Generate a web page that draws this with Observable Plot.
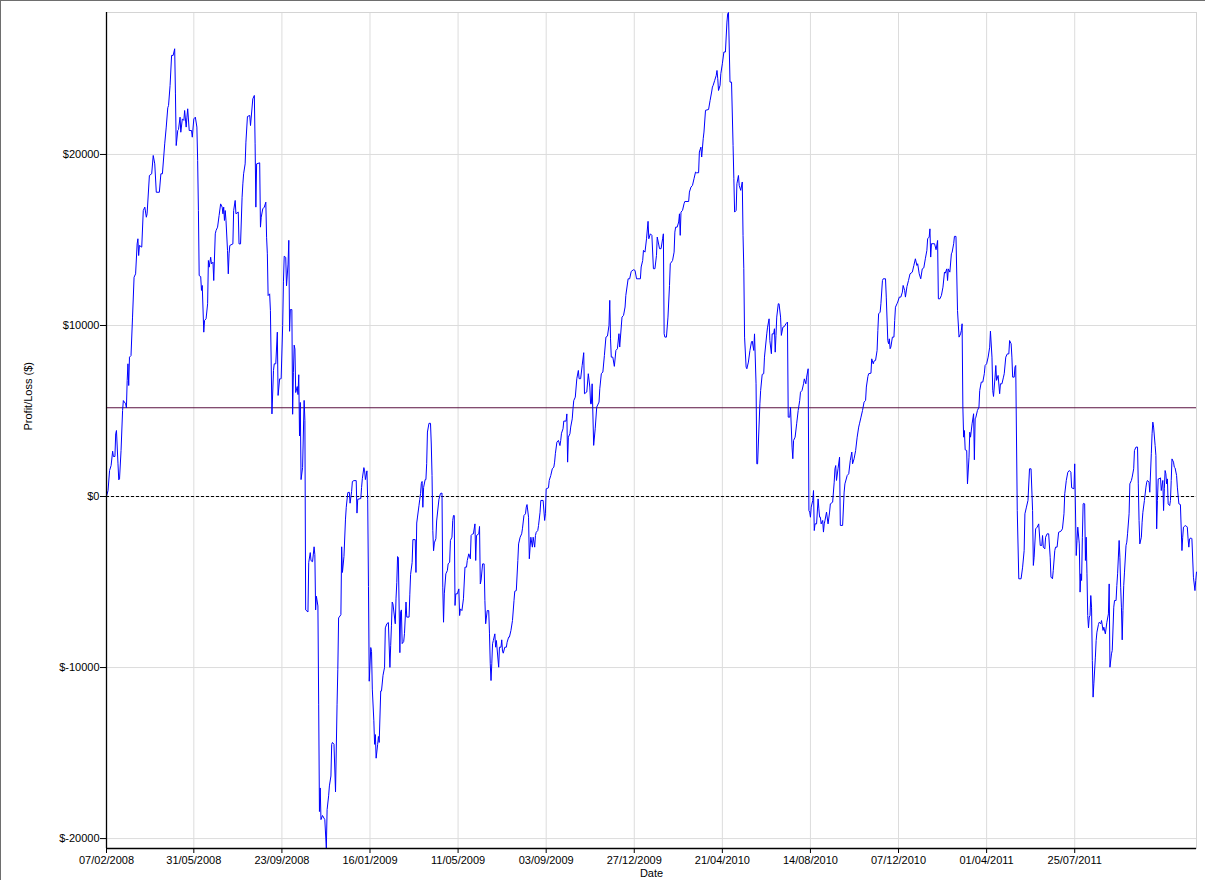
<!DOCTYPE html>
<html>
<head>
<meta charset="utf-8">
<script src="https://cdn.jsdelivr.net/npm/d3@7"></script>
<script src="https://cdn.jsdelivr.net/npm/@observablehq/plot@0.6"></script>
<style>
  html, body { margin: 0; padding: 0; background: #fff; }
  #wrap { position: relative; width: 1205px; height: 880px; overflow: hidden; }
  #border { position: absolute; left: 0; top: 0; width: 1205px; height: 880px; box-sizing: border-box;
            border-top: 1px solid #6e6e6e; border-left: 1px solid #6e6e6e; pointer-events: none; }
</style>
</head>
<body>
<div id="wrap"><div id="border"></div></div>
<script>
// ---- Data ----
const startDate = "07/02/2008";           // first trading date shown
// [calendar days since start, profit/loss in $]
const pnlPoints = [
[0,0],[2,350],[4,1520],[6,1810],[8,2650],[9,2340],[11,2340],[12,3660],[13,3860],[15,1910],[16,975],[17,1030],[19,2690],[21,5030],[22,5610],[25,5420],[26,5180],[27,6780],[28,7760],[29,6490],[30,8150],[32,8240],[34,10490],[36,12820],[38,13020],[40,14770],[41,15070],[42,14090],[43,14680],[46,14580],[48,16720],[50,16920],[52,16330],[53,16530],[56,18770],
[59,18870],[61,19940],[63,19450],[65,17790],[69,17790],[71,18870],[73,18870],[76,20620],[78,21600],[80,22730],[81,22860],[83,24030],[85,25790],[87,25790],[89,26180],[90,23540],[91,20520],[93,21400],[94,21460],[96,22180],[97,21300],[99,22080],[101,21990],[102,22570],[104,21600],[105,22180],[106,22670],[108,21400],[111,21400],[112,21010],[114,22080],[116,22180],[118,21600],[119,19650],[120,16720],[121,12920],[123,12860],[124,12050],[125,12340],[127,9610],[128,10290],[130,10390],[132,11270],[133,13800],[134,13410],[136,13990],[137,13600],[139,13700],[140,12630],[142,15360],[143,15550],[145,15750],[147,16430],[149,17110],[151,16920],[152,16530],[153,16920],[154,16140],[155,16720],[156,16140],[158,14380],[159,13020],[160,14190],[161,14680],[165,14770],[166,16720],[168,17310],[169,16530],
[172,16630],[173,14770],[175,14770],[177,17500],[178,18280],[179,18870],[181,19450],[182,20720],[184,22220],[187,22280],[188,21690],[191,23250],[193,23450],[194,20620],[195,16920],[196,19450],[200,19510],[201,15750],[202,16330],[204,16820],[206,16920],[208,17210],[209,15160],[210,14190],[211,11750],[213,11850],[214,10880],[216,4830],[218,7370],[219,7760],[221,7760],[223,9610],[224,5910],[226,6880],[227,6880],
[228,6890],[230,10010],[231,12550],[232,14050],[234,13980],[235,12320],[237,13590],[238,14980],[239,9660],[240,10930],[242,10930],[243,4810],[244,7240],[245,8850],[246,8620],[247,6080],[249,6430],[250,5960],[251,7120],[252,3540],[253,5500],[254,990],[256,1690],[258,5620],[259,4460],[260,-6630],[263,-6750],[264,-3860],[266,-3280],[267,-3750],[269,-3810],[271,-2940],[272,-3400],[273,-6630],[274,-5830],[276,-6400],[277,-12180],[278,-18420],[279,-17040],[280,-18890],[282,-18650],
[285,-18890],[287,-20580],[288,-18310],[290,-17500],[291,-16920],[293,-16340],[294,-14490],[295,-14380],[297,-14490],[299,-17270],[301,-12180],[302,-10100],[303,-7100],[306,-6910],[307,-2940],[308,-4440],[310,-3510],[312,-1320],[313,-630],[315,230],[317,250],[318,-390],[320,300],[321,880],[323,930],[326,930],[327,-970],[328,-160],[332,-120],[333,530],[334,1040],[336,1690],[337,1500],[338,990],[340,1500],[341,-160],[342,-5250],[343,-10800],[345,-8830],[346,-9060],[347,-11260],[349,-13110],[350,-14490],[351,-13920],[352,-15300],[354,-14490],[355,-14030],[356,-14380],[358,-11370],[359,-11370],[361,-10450],[363,-9990],[364,-7680],[366,-7440],[368,-7370],[370,-9990],[371,-8720],[372,-7560],[373,-6170],[374,-6290],[377,-7440],[378,-5940],[379,-5020],[380,-3510],[381,-3560],[383,-9130],[384,-6750],[385,-6630],[386,-8600],[388,-8480],[389,-8020],[391,-6170],[392,-7050],[395,-7050],[396,-5710],[397,-4550],
[399,-3860],[400,-2520],[403,-2520],[404,-4440],[405,-1550],[406,-1200],[408,-510],[409,-160],[410,180],[411,760],[412,880],[413,-630],[414,530],[416,990],[417,990],[418,1920],[419,3770],[421,4280],[423,4280],[424,3070],[425,1230],[426,-1980],[427,-3170],[428,-2710],[430,-2470],[431,-1430],[434,-160],[436,180],
[438,200],[439,-5300],[440,-7350],[441,-5690],[443,-4520],[445,-4330],[446,-3940],[448,-3840],[449,-2570],[451,-2380],[452,-1400],[453,-1110],[454,-1110],[455,-6370],[456,-5690],[458,-5690],[460,-5400],[461,-6960],[462,-6570],[464,-6670],[466,-5980],[468,-4130],[470,-4130],[471,-3740],[473,-3350],[475,-3640],[476,-2280],[478,-2180],[479,-2180],[481,-1600],[482,-3740],[483,-2280],[486,-2180],[487,-1750],[488,-5110],[489,-4910],[491,-3940],[493,-3940],[494,-6080],[495,-7440],[497,-6670],[499,-6670],[500,-8030],[501,-9780],[502,-10760],[503,-9780],[504,-8610],[505,-8420],[507,-8030],[508,-8810],[509,-8420],
[512,-9980],[513,-8810],[515,-8810],[516,-8380],[517,-9040],[518,-9160],[520,-8810],[522,-8810],[523,-8520],[525,-8220],[526,-8220],[528,-7830],[530,-7250],[532,-6080],[533,-5540],[535,-5500],[537,-3740],[538,-2770],[540,-2380],[542,-2180],[543,-1890],[545,-1110],[547,-1010],[548,-620],[549,-470],[551,-1210],[552,-3640],[553,-2960],[554,-2380],[556,-2960],[557,-2380],[559,-2960],[560,-2280],[561,-2090],[563,-1990],[564,-1700],[566,-920],[567,-230],[570,-230],[572,-1400],[573,-1010],[574,450],[577,510],[578,940],[580,1230],[582,1620],[584,1720],[585,2010],[586,2500],[588,3180],[590,3280],[592,2980],[593,3280],[594,3700],[596,3960],[597,4410],[600,4410],[601,4830],[602,2010],[603,3470],[605,3670],[606,4060],[608,4540],[609,5130],[610,5610],
[612,5810],[614,6890],[616,7370],[617,6890],[619,6890],[621,7670],[623,8410],[624,6010],
[627,6110],[629,7180],[631,6400],[632,5420],[633,5420],[634,6590],[636,2990],[638,3960],[640,5230],[643,5520],[644,6300],[646,7180],[648,7280],[650,8250],[652,9320],[654,9380],[656,10000],[657,11470],[658,9220],[659,8150],[661,8150],[663,7610],[665,8540],[667,8640],[669,9520],[670,8740],[672,9910],[673,10490],[675,10590],[677,11080],[678,11760],[681,12730],[683,12730],[685,13160],[688,13260],[690,13220],[692,12730],[697,12730],[698,13420],[700,13800],[701,14390],[703,14290],[705,15070],[707,16090],[708,15070],[710,15360],[712,15270],[714,13320],[716,13320],[718,14100],[719,15170],[722,14490],[724,14490],[726,15070],[727,15360],[728,9520],[729,9320],[731,9320],[733,10490],[735,12340],[736,13610],
[739,13800],[741,14290],[742,15460],[743,15750],[745,15750],[747,16050],[748,16530],[749,15270],[750,16630],[752,16730],[754,17120],[755,17250],[760,17250],[761,17800],[763,18090],[765,18190],[767,18580],[769,18970],[770,18930],[773,18930],[774,20140],[776,20430],[777,19850],[779,20920],[780,21310],[782,22580],[786,22630],[788,23160],[790,23650],[791,23940],[792,24040],[794,24330],[796,24620],[797,24910],[798,24430],[799,23740],[801,24040],[802,24720],[804,25300],[806,25990],[808,25990],[810,27740],[811,28230],[812,28300],[814,24230],[816,24230],[818,20530],[819,18580],[820,16630],[822,16730],[823,18290],[825,18770],[826,18190],[828,17900],[830,18390],[831,15270],[832,13320],
[833,9320],[835,7570],[836,7470],[838,7860],[840,8540],[842,9030],[843,9090],[845,8540],[846,9510],[848,6590],[849,1910],[850,1910],
[853,5420],[854,6200],[856,7140],[858,7180],[859,8150],[862,9510],[863,9900],[865,10390],[866,9120],[868,8350],[869,9510],[871,9510],[872,9810],[873,8440],[874,9420],[875,10490],[877,11270],[878,11270],[880,10490],[881,9420],[883,9900],[885,9940],[887,10100],[889,10200],[890,4640],[892,4640],[893,5230],[895,2890],[896,2210],[897,3280],[899,3470],[901,4250],[903,5030],[905,5620],[906,6100],[908,6200],[910,6590],[911,6880],[913,6590],[914,6980],[916,7470],[917,-820],[918,-910],[919,-1210],[920,-620],[922,-230],[923,350],[924,-1990],[925,-1600],[927,-1600],[929,-140],[930,-720],[931,-1210],[932,-1210],[933,-1600],[935,-1400],[936,-2080],[937,-1600],[938,-1400],[940,-910],[942,-1600],[944,-910],[945,-430],[948,-330],[950,840],[951,1620],[952,1810],[953,940],[955,1620],[957,2300],[958,-1690],[961,-1690],[963,260],[964,740],
[967,1230],[969,1330],[971,2110],[973,2600],[974,1910],[976,2210],[978,2690],[980,3470],[982,4060],[983,4250],[985,4640],[987,5030],[989,5520],[991,5620],[992,6400],[994,7020],[995,7180],[998,7210],[999,8050],[1001,7760],[1002,7920],[1004,7960],[1006,8540],[1007,9710],[1008,10680],[1010,10780],[1011,11270],[1013,12630],[1014,12730],[1017,12730],[1018,11660],[1020,9120],[1021,8930],[1022,9220],[1023,8640],[1024,8740],[1026,9320],[1028,9320],[1029,10290],[1030,11070],[1032,11270],[1033,11370],[1035,11660],[1037,11660],[1039,11950],[1040,12340],[1042,12050],[1043,11660],
[1045,12280],[1047,12630],[1049,13020],[1052,13120],[1054,13510],[1056,13900],[1058,13510],[1059,13610],[1061,13020],[1063,12730],[1065,13310],[1067,13370],[1069,13900],[1071,14390],[1072,15070],[1074,15170],[1075,15650],[1076,14000],[1077,14780],
[1081,14780],[1083,14430],[1085,14970],[1086,11560],[1088,11560],[1090,11760],[1092,12240],[1094,13120],[1095,13060],[1097,13310],[1098,12630],[1099,13310],[1101,13120],[1103,14190],[1104,14290],[1106,14780],[1107,15210],[1109,15210],[1111,10880],[1113,9320],[1115,9510],[1116,9710],[1117,10100],[1118,5230],[1119,3470],[1120,3860],[1121,2730],[1123,2690],[1124,740],[1126,2300],[1127,3760],[1128,3470],[1130,4250],[1132,4840],[1133,2150],[1134,4540],[1135,4640],[1137,5030],[1139,5230],[1140,6200],[1142,6690],[1144,6690],[1146,7180],[1147,7660],[1149,7760],[1151,8150],[1153,8730],[1154,9670],[1156,8150],[1157,6200],[1158,5850],[1160,6980],[1161,7660],[1162,6790],[1164,7080],[1166,6010],[1167,6590],[1169,6590],[1171,6980],[1172,7180],[1174,8150],[1176,8340],[1178,8340],[1179,9120],[1181,8930],[1182,8150],[1183,6980],[1185,6980],[1186,7570],[1187,7660],[1189,-820],[1191,-4810],
[1194,-4810],[1196,-4130],[1198,-3160],[1199,-1010],[1201,-620],[1203,-230],[1205,1620],[1207,1620],[1209,-820],[1210,-4030],[1211,-3550],[1213,-1890],[1215,-1790],[1217,-1600],[1219,-2860],[1221,-2860],[1222,-2280],[1223,-2960],[1225,-3060],[1226,-2380],[1228,-2180],[1230,-2180],[1232,-3550],[1233,-4710],[1235,-4810],[1236,-4320],[1238,-3160],[1239,-2960],
[1241,-2960],[1243,-2090],[1246,-2030],[1248,-1890],[1250,-1010],[1251,160],[1253,940],[1255,1420],[1257,1520],[1259,1420],[1260,510],[1263,450],[1264,1910],[1266,-3450],[1267,-2570],[1268,-1790],[1270,-2770],[1271,-5590],[1272,-4520],[1273,-4910],[1274,-2380],[1275,-430],[1276,-390],[1277,-430],[1278,-3740],[1279,-2380],[1280,-4520],[1281,-6960],[1282,-7680],[1283,-7050],[1284,-6960],[1285,-5790],[1286,-6470],[1287,-9590],[1288,-11730],[1289,-10950],[1291,-9390],[1292,-8420],[1293,-7930],[1295,-7480],[1296,-7350],[1298,-7440],[1299,-7250],[1301,-7830],[1302,-7640],[1304,-8030],[1306,-7350],
[1308,-6860],[1309,-5110],[1310,-9980],[1312,-9200],[1313,-9000],[1315,-6470],[1316,-6080],[1318,-6080],[1319,-5200],[1320,-4520],[1322,-2570],[1323,-3550],[1324,-5300],[1325,-6470],[1326,-8380],[1327,-6670],[1328,-5200],[1329,-4420],[1331,-2860],[1332,-2670],[1333,-2180],[1335,-1010],[1336,740],[1338,940],[1339,1130],[1341,1620],[1342,2690],[1344,2890],[1346,2890],[1347,740],[1348,-1400],[1349,-2770],[1351,-2380],[1352,-1500],[1353,-920],[1355,-230],[1357,550],[1358,840],[1359,940],[1361,840],[1362,250],[1364,2500],[1365,3670],[1366,4350],[1367,4060],[1369,2980],[1370,2400],[1371,-1890],[1372,-230],[1373,1030],[1374,1030],[1376,1090],[1377,350],[1379,940],[1380,-820],[1381,450],[1382,1520],[1383,1330],[1384,740],[1385,1030],[1386,-430],[1388,-530],[1389,-230],[1390,940],[1391,2200],[1393,2010],[1394,1720],[1395,1680],[1397,1230],[1398,550],[1400,-430],[1402,-470],[1404,-3160],[1405,-2380],[1406,-1790],[1407,-1750],[1409,-1700],[1411,-1790],[1412,-2470],[1413,-2960],[1414,-2470],[1416,-2420],[1417,-2470],[1419,-4720],
[1421,-5500],[1422,-4910],[1423,-4420]
];
const referenceLevel = 5190;               // solid horizontal reference line ($)
const zeroLevel = 0;                       // dashed break-even line ($)
const yTicks = [-20000, -10000, 0, 10000, 20000];
const xTickLabels = ["07/02/2008","31/05/2008","23/09/2008","16/01/2009","11/05/2009","03/09/2009",
                     "27/12/2009","21/04/2010","14/08/2010","07/12/2010","01/04/2011","25/07/2011"];
const yLabel = "Profit/Loss ($)";
const xLabel = "Date";

// ---- Build table ----
const parse = d3.utcParse("%d/%m/%Y");
const fmt = d3.utcFormat("%d/%m/%Y");
const t0 = parse(startDate);
const data = pnlPoints.map(([d, v]) => ({date: d3.utcDay.offset(t0, d), pnl: v}));
const xTicks = xTickLabels.map(parse);
const xDomain = d3.extent(data, d => d.date);
const yDomain = d3.extent(data, d => d.pnl);

const chart = Plot.plot({
  width: 1205,
  height: 880,
  marginLeft: 106,
  marginRight: 9,
  marginTop: 12,
  marginBottom: 32,
  style: {fontFamily: "Arial, 'Liberation Sans', sans-serif", fontSize: "11px", color: "#000", background: "transparent"},
  x: {type: "utc", domain: xDomain},
  y: {domain: yDomain},
  marks: [
    Plot.gridX(xTicks, {stroke: "#dcdcdc", strokeOpacity: 1}),
    Plot.gridY(yTicks, {stroke: "#dcdcdc", strokeOpacity: 1}),
    Plot.frame({stroke: "#d4d4d4"}),
    Plot.ruleY([zeroLevel], {stroke: "#000", strokeDasharray: "3,2", strokeWidth: 1}),
    Plot.ruleY([referenceLevel], {stroke: "#5a1040", strokeWidth: 1}),
    Plot.lineY(data, {x: "date", y: "pnl", stroke: "#0000ff", strokeWidth: 1}),
    Plot.ruleX([xDomain[0]], {stroke: "#000", strokeWidth: 1.3}),
    Plot.ruleY([yDomain[0]], {stroke: "#000", strokeWidth: 1.3}),
    Plot.axisX(xTicks, {tickFormat: fmt, tickSize: 5, tickPadding: 3, label: null, fontSize: 11, stroke: "#000"}),
    Plot.axisY(yTicks, {tickFormat: d => "$" + d, tickSize: 6, tickPadding: 1, label: null, fontSize: 11, stroke: "#000"}),
    Plot.text([yLabel], {frameAnchor: "left", dx: -78, rotate: -90, fontSize: 11, fill: "#000"}),
    Plot.text([xLabel], {frameAnchor: "bottom", dy: 21, lineAnchor: "top", fontSize: 11, fill: "#000"})
  ]
});
document.getElementById("wrap").prepend(chart);
</script>
</body>
</html>
